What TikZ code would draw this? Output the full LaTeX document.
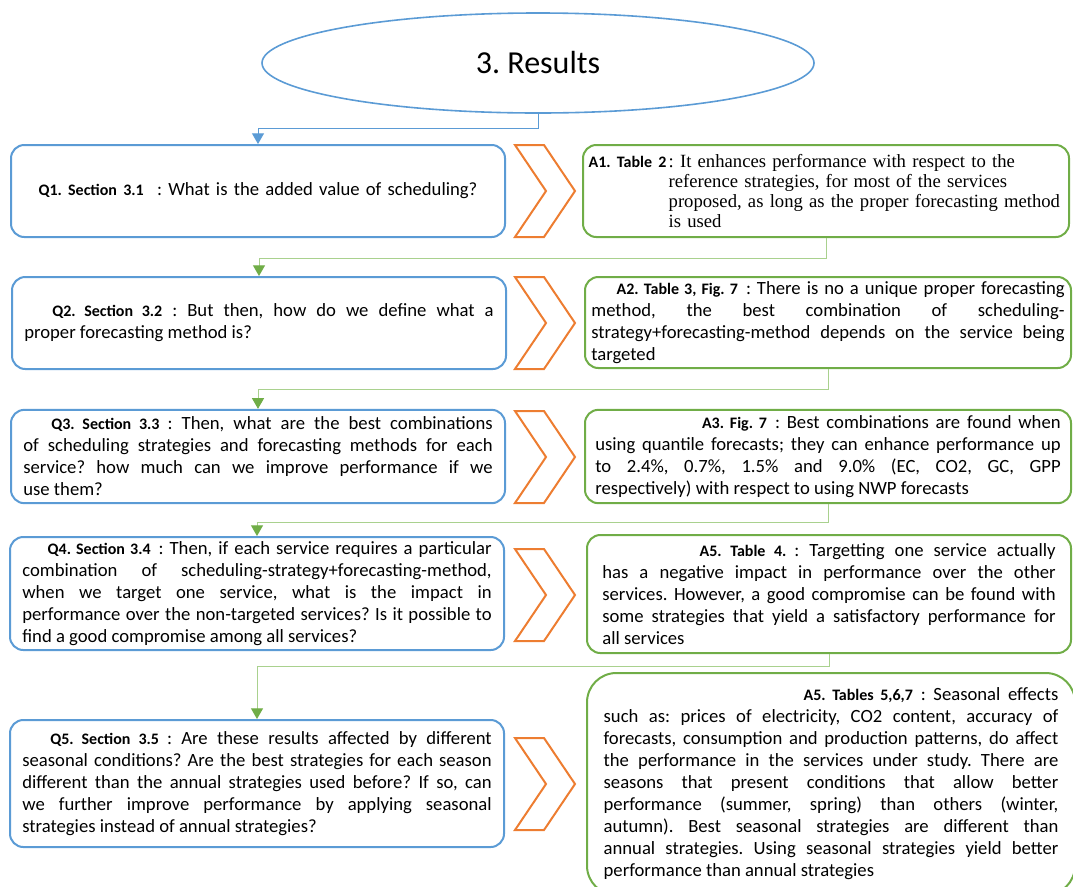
\documentclass[tikz,border=0pt]{standalone}
\usepackage{fontspec}
\setmainfont{Carlito}
\newfontfamily\timesfont{Liberation Serif}
\usetikzlibrary{shapes.geometric,arrows.meta}
\definecolor{qblue}{HTML}{5B9BD5}
\definecolor{agreen}{HTML}{70AD47}
\definecolor{lightgreen}{HTML}{A9D18E}
\definecolor{chevorange}{HTML}{ED7D31}
\frenchspacing
\newcommand{\lbl}[1]{{\fontsize{12}{14}\selectfont\bfseries #1}}
\newcommand{\txtfont}{\fontsize{14}{16.5}\selectfont\tolerance=10000\hyphenpenalty=10000\exhyphenpenalty=10000}

\begin{document}
\begin{tikzpicture}[x=0.75pt,y=-0.75pt,
  qbox/.style={draw=qblue,line width=1.5pt,rounded corners=10pt,minimum width=370.5pt,
    align=justify,text width=352pt,font=\txtfont,inner sep=0pt},
  abox/.style={draw=agreen,line width=1.5pt,rounded corners=10pt,minimum width=364.5pt,
    align=justify,font=\txtfont,inner sep=0pt},
  blueln/.style={qblue,line width=0.75pt,-{Triangle[length=8pt,width=9pt]}},
  greenln/.style={lightgreen,line width=0.75pt,-{Triangle[length=8pt,width=9pt,color=agreen]}},
  chevron/.pic={\draw[chevorange,line width=1.5pt] (-30,-46) -- (-1,-46) -- (30,0) -- (-1,46) -- (-30,46) -- (1,0) -- cycle;}]
\clip (0,0) rectangle (1073,886);

% title
\node[ellipse,draw=qblue,line width=1.2pt,minimum width=414pt,minimum height=75pt,
  font=\fontsize{24}{28}\selectfont] (res) at (538,63) {3. Results};

% questions
\node[qbox,minimum height=69pt,align=center] (q1) at (258,191)
  {\lbl{Q1. Section 3.1}\hspace{10pt}: What is the added value of scheduling?};
\node[qbox,minimum height=69pt] (q2) at (259,323)
  {\hspace*{21pt}\lbl{Q2. Section 3.2} : But then, how do we define what a\linebreak
  proper forecasting method is?};
\node[qbox,minimum height=70pt] (q3) at (258,456.5)
  {\hspace*{21pt}\lbl{Q3. Section 3.3}\hspace{6pt}: Then, what are the best combinations\linebreak
  of scheduling strategies and forecasting methods for each\linebreak
  service? how much can we improve performance if we\linebreak
  use them?};
\node[qbox,minimum height=84.75pt] (q4) at (257,593.5)
  {\hspace*{19pt}\lbl{Q4. Section 3.4}\hspace{6pt}: Then, if each service requires a particular\linebreak
  combination of scheduling-strategy+forecasting-method,\linebreak
  when we target one service, what is the impact in\linebreak
  performance over the non-targeted services? Is it possible to\linebreak
  find a good compromise among all services?};
\node[qbox,minimum height=95.25pt] (q5) at (257,783.5)
  {\hspace*{21pt}\lbl{Q5. Section 3.5}\hspace{6pt}: Are these results affected by different\linebreak
  seasonal conditions? Are the best strategies for each season\linebreak
  different than the annual strategies used before? If so, can\linebreak
  we further improve performance by applying seasonal\linebreak
  strategies instead of annual strategies?};

% answers
\node[abox,minimum height=69pt,text width=356pt,align=left] (a1) at (826,191)
  {\makebox[60pt][l]{\lbl{A1. Table 2}}\parbox[t]{296pt}{\timesfont\fontsize{14}{14.8}\selectfont
  : It enhances performance with respect to the\\
  reference strategies, for most of the services\\
  proposed, as long as the proper forecasting method\\
  is used}};
\node[abox,minimum height=68.25pt,text width=355pt] (a2) at (828,322.5)
  {\hspace*{19pt}\lbl{A2. Table 3, Fig. 7}\hspace{6pt}: There is no a unique proper forecasting\linebreak
  method, the best combination of scheduling-\linebreak
  strategy+forecasting-method depends on the service being\linebreak
  targeted};
\node[abox,minimum height=70pt,text width=349pt] (a3) at (828,456.5)
  {\hspace*{80pt}\lbl{A3. Fig. 7}\hspace{6pt}: Best combinations are found when\linebreak
  using quantile forecasts; they can enhance performance up\linebreak
  to 2.4\%, 0.7\%, 1.5\% and 9.0\% (EC, CO2, GC, GPP\linebreak
  respectively) with respect to using NWP forecasts};
\node[abox,minimum width=363pt,minimum height=88.5pt,text width=340pt] (a4) at (829,594)
  {\hspace*{73pt}\lbl{A5. Table 4.}\hspace{6pt}: Targetting one service actually\linebreak
  has a negative impact in performance over the other\linebreak
  services. However, a good compromise can be found with\linebreak
  some strategies that yield a satisfactory performance for\linebreak
  all services};
\node[abox,rounded corners=22pt,minimum width=366pt,minimum height=166.5pt,text width=341pt] (a5) at (831,784)
  {\hspace*{150pt}\lbl{A5. Tables 5,6,7}\hspace{6pt}: Seasonal effects\linebreak
  such as: prices of electricity, CO2 content, accuracy of\linebreak
  forecasts, consumption and production patterns, do affect\linebreak
  the performance in the services under study. There are\linebreak
  seasons that present conditions that allow better\linebreak
  performance (summer, spring) than others (winter,\linebreak
  autumn). Best seasonal strategies are different than\linebreak
  annual strategies. Using seasonal strategies yield better\linebreak
  performance than annual strategies};

% chevrons
\pic at (545,191) {chevron};
\pic at (545,323) {chevron};
\pic at (545,457) {chevron};
\pic at (545,595) {chevron};
\pic at (545,784) {chevron};

% links
\draw[blueln] (res.south) |- ([yshift=12pt]q1.north) -- (q1.north);
\draw[greenln] (a1.south) -- ++(0,20) -| (q2.north);
\draw[greenln] (a2.south) -- ++(0,20) -| (q3.north);
\draw[greenln] (a3.south) -- ++(0,18) -| (q4.north);
\draw[greenln] (a4.south) -- ++(0,12) -| (q5.north);
\end{tikzpicture}
\end{document}
